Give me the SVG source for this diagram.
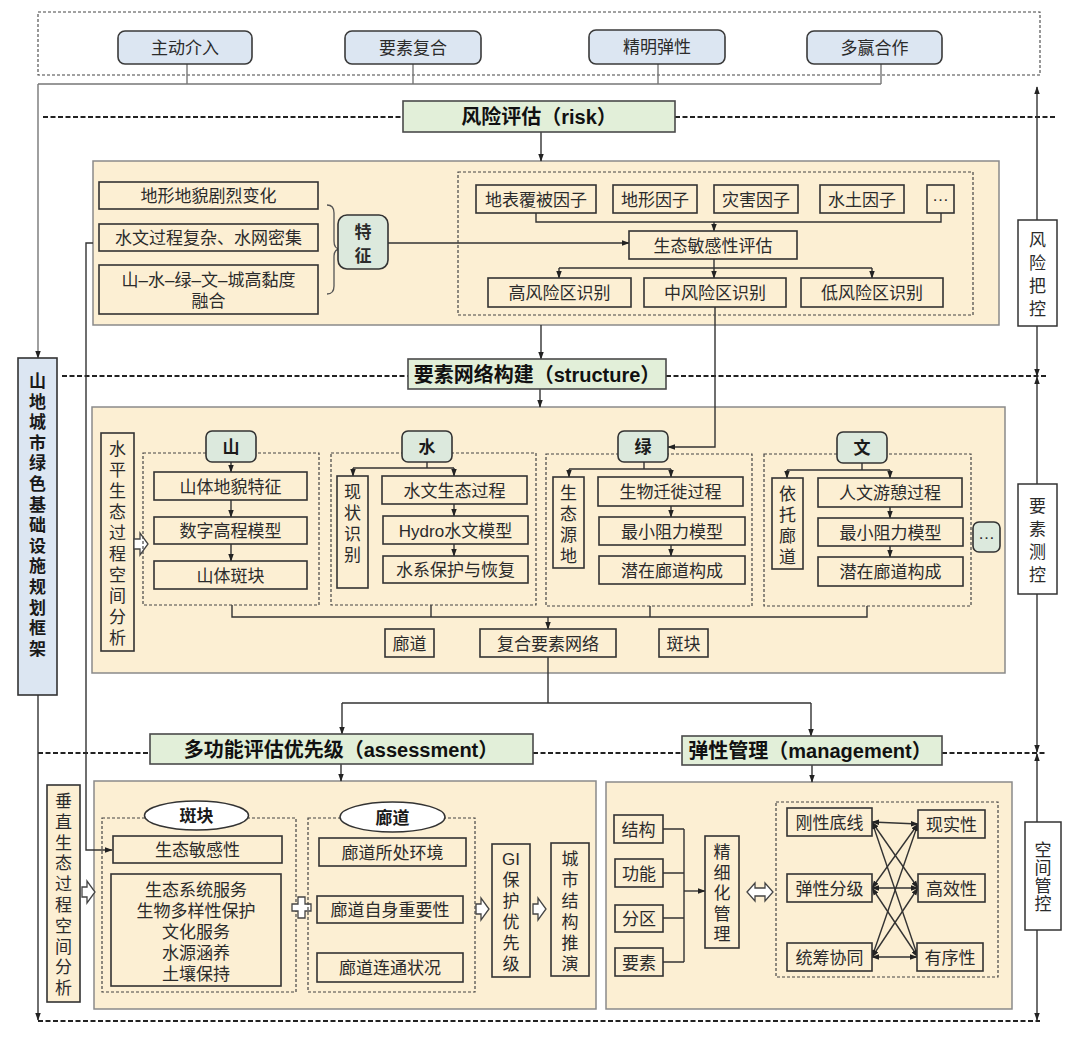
<svg xmlns="http://www.w3.org/2000/svg" width="1080" height="1046" viewBox="0 0 1080 1046">
<defs>
<style>
.t{font-family:"Liberation Sans","Noto Sans CJK SC",sans-serif;font-size:17px;fill:#2b2b2b;text-anchor:middle;dominant-baseline:central}
.b{font-weight:700;fill:#1a1a1a}
.h{font-size:20px;font-weight:700;fill:#111}
.pill{fill:#dce6f2;stroke:#3a3a3a;stroke-width:1.6}
.panel{fill:#fcefd3;stroke:#8a8a8a;stroke-width:1.5}
.box{fill:#fcefd3;stroke:#333;stroke-width:1.6}
.tab{fill:#dce9dd;stroke:#333;stroke-width:1.6}
.title{fill:#e2efd9;stroke:#4a4a4a;stroke-width:1.6}
.wbox{fill:#fff;stroke:#333;stroke-width:1.5}
.grp{fill:none;stroke:#444;stroke-width:1.2;stroke-dasharray:3 2}
.lvl{fill:none;stroke:#222;stroke-width:2;stroke-dasharray:5 2.5}
.ln{fill:none;stroke:#333;stroke-width:1.4}
.gl{fill:none;stroke:#777;stroke-width:1.4}
.hol{fill:#fff;stroke:#444;stroke-width:1.3}
</style>
<marker id="a" viewBox="0 0 10 10" refX="9" refY="5" markerWidth="8" markerHeight="8" markerUnits="userSpaceOnUse" orient="auto-start-reverse"><path d="M0,1.5 L10,5 L0,8.5 z" fill="#222"/></marker>
</defs>
<rect width="1080" height="1046" fill="#fff"/>

<!-- top principles box -->
<rect x="38" y="12" width="1002" height="63" fill="none" stroke="#444" stroke-width="1.1" stroke-dasharray="3 2"/>

<!-- level dashed lines -->
<g id="levels">
<path class="lvl" d="M43,117 H403 M675,117 H1055"/>
<path class="lvl" d="M62,376 H408 M666,376 H1048"/>
<path class="lvl" d="M38,753 H150 M533,753 H682 M942,753 H1045"/>
<path class="lvl" d="M38,1021 H1040"/>
</g>

<!-- panels -->
<g id="risk-panel"><rect class="panel" x="93" y="161" width="906" height="164"/></g>
<g id="structure-panel"><rect class="panel" x="92" y="407" width="913" height="266"/></g>
<g id="assessment-panel"><rect class="panel" x="94" y="781" width="502" height="228"/></g>
<g id="management-panel"><rect class="panel" x="606" y="782" width="406" height="227"/></g>

<!-- connectors -->
<g id="connectors">
<path class="gl" d="M187,64 V84 M413,64 V84 M658,64 V84 M881,64 V84 M881,84 H38"/>
<path class="gl" d="M38,84 V358" marker-end="url(#a)"/>
<path class="ln" d="M38,695 V1020" marker-end="url(#a)"/>
<path class="ln" d="M93,243 H86 V850 H112" marker-end="url(#a)"/>
<path class="ln" d="M541,132 V161" marker-end="url(#a)"/>
<path class="ln" d="M388,243 H629" marker-end="url(#a)"/>
<path class="ln" d="M536,213 V222 H941 V213"/>
<path class="ln" d="M714,222 V231" marker-end="url(#a)"/>
<path class="ln" d="M714,259 V268 M559,268 H872"/>
<path class="ln" d="M559,268 V278" marker-end="url(#a)"/>
<path class="ln" d="M714,268 V278" marker-end="url(#a)"/>
<path class="ln" d="M872,268 V278" marker-end="url(#a)"/>
<path class="ln" d="M715,307 V447 H668" marker-end="url(#a)"/>
<path class="ln" d="M541,325 V359" marker-end="url(#a)"/>
<path class="ln" d="M540,389 V407" marker-end="url(#a)"/>
<path class="ln" d="M231,462 V472" marker-end="url(#a)"/>
<path class="ln" d="M231,500 V517" marker-end="url(#a)"/>
<path class="ln" d="M231,544 V561" marker-end="url(#a)"/>
<path class="ln" d="M427,462 V468 M353,468 H454"/>
<path class="ln" d="M353,468 V476" marker-end="url(#a)"/>
<path class="ln" d="M454,468 V476" marker-end="url(#a)"/>
<path class="ln" d="M454,504 V516" marker-end="url(#a)"/>
<path class="ln" d="M454,544 V556" marker-end="url(#a)"/>
<path class="ln" d="M644,462 V469 M569,469 H671"/>
<path class="ln" d="M569,469 V477" marker-end="url(#a)"/>
<path class="ln" d="M671,469 V477" marker-end="url(#a)"/>
<path class="ln" d="M671,506 V517" marker-end="url(#a)"/>
<path class="ln" d="M671,545 V556" marker-end="url(#a)"/>
<path class="ln" d="M862,463 V470 M787,470 H890"/>
<path class="ln" d="M787,470 V478" marker-end="url(#a)"/>
<path class="ln" d="M890,470 V478" marker-end="url(#a)"/>
<path class="ln" d="M890,507 V518" marker-end="url(#a)"/>
<path class="ln" d="M890,546 V557" marker-end="url(#a)"/>
<path class="ln" d="M232,605 V617 H867 V606 M431,605 V617 M650,606 V617"/>
<path class="ln" d="M548,617 V629" marker-end="url(#a)"/>
<path class="ln" d="M548,657 V703 M342,703 H811"/>
<path class="ln" d="M342,703 V734" marker-end="url(#a)"/>
<path class="ln" d="M811,703 V736" marker-end="url(#a)"/>
<path class="ln" d="M341,764 V781" marker-end="url(#a)"/>
<path class="ln" d="M812,765 V782" marker-end="url(#a)"/>
<path class="ln" d="M663,829 H684 M663,873 H684 M663,918 H684 M663,962 H684 M684,829 V962"/>
<path class="ln" d="M684,891 H705" marker-end="url(#a)"/>
<g stroke-width="1.1">
<path class="ln" d="M872,822 L918,824" marker-start="url(#a)" marker-end="url(#a)"/>
<path class="ln" d="M872,822 L918,888" marker-start="url(#a)" marker-end="url(#a)"/>
<path class="ln" d="M872,822 L918,957" marker-start="url(#a)" marker-end="url(#a)"/>
<path class="ln" d="M872,888 L918,824" marker-start="url(#a)" marker-end="url(#a)"/>
<path class="ln" d="M872,888 L918,888" marker-start="url(#a)" marker-end="url(#a)"/>
<path class="ln" d="M872,888 L918,957" marker-start="url(#a)" marker-end="url(#a)"/>
<path class="ln" d="M872,957 L918,824" marker-start="url(#a)" marker-end="url(#a)"/>
<path class="ln" d="M872,957 L918,888" marker-start="url(#a)" marker-end="url(#a)"/>
<path class="ln" d="M872,957 L917,957" marker-start="url(#a)" marker-end="url(#a)"/>
</g>
<path class="ln" d="M1037,376 V87" marker-start="url(#a)" marker-end="url(#a)"/>
<path class="ln" d="M1037,377 V752" marker-start="url(#a)" marker-end="url(#a)"/>
<path class="ln" d="M1037,754 V1020" marker-start="url(#a)" marker-end="url(#a)"/>
</g>

<!-- top pills -->
<g id="p1"><rect class="pill" x="118" y="31" width="134" height="33" rx="7"/><text class="t" x="185" y="48" font-size="19">主动介入</text></g>
<g id="p2"><rect class="pill" x="345" y="31" width="136" height="33" rx="7"/><text class="t" x="413" y="48" font-size="19">要素复合</text></g>
<g id="p3"><rect class="pill" x="589" y="30" width="136" height="34" rx="7"/><text class="t" x="657" y="47.5" font-size="19">精明弹性</text></g>
<g id="p4"><rect class="pill" x="807" y="31" width="135" height="33" rx="7"/><text class="t" x="874.5" y="48" font-size="19">多赢合作</text></g>

<!-- titles -->
<g id="t-risk"><rect class="title" x="403" y="101" width="272" height="31"/><text class="t h" x="539" y="117">风险评估（risk）</text></g>
<g id="t-structure"><rect class="title" x="408" y="359" width="258" height="30"/><text class="t h" x="537" y="374.5">要素网络构建（structure）</text></g>
<g id="t-assessment"><rect class="title" x="150" y="734" width="383" height="30"/><text class="t h" x="341" y="749.5">多功能评估优先级（assessment）</text></g>
<g id="t-management"><rect class="title" x="682" y="736" width="260" height="29"/><text class="t h" x="810" y="751">弹性管理（management）</text></g>

<!-- left framework box -->
<g id="framework"><rect x="18" y="358" width="39" height="337" fill="#dce6f2" stroke="#333" stroke-width="1.6"/>
<text class="t b" font-size="18.4" x="37.5" y="380"><tspan x="37.5" y="381">山</tspan><tspan x="37.5" y="401.6">地</tspan><tspan x="37.5" y="422.2">城</tspan><tspan x="37.5" y="442.8">市</tspan><tspan x="37.5" y="463.4">绿</tspan><tspan x="37.5" y="484">色</tspan><tspan x="37.5" y="504.6">基</tspan><tspan x="37.5" y="525.2">础</tspan><tspan x="37.5" y="545.8">设</tspan><tspan x="37.5" y="566.4">施</tspan><tspan x="37.5" y="587">规</tspan><tspan x="37.5" y="607.6">划</tspan><tspan x="37.5" y="628.2">框</tspan><tspan x="37.5" y="648.8">架</tspan></text></g>

<!-- right control boxes -->
<g id="r1"><rect class="wbox" x="1018" y="220" width="39" height="106"/><text class="t" font-size="18" x="1037.5" y="240"><tspan x="1037.5" y="240">风</tspan><tspan x="1037.5" y="263">险</tspan><tspan x="1037.5" y="286">把</tspan><tspan x="1037.5" y="309">控</tspan></text></g>
<g id="r2"><rect class="wbox" x="1018" y="484" width="39" height="110"/><text class="t" font-size="18" x="1037.5" y="506"><tspan x="1037.5" y="506">要</tspan><tspan x="1037.5" y="529">素</tspan><tspan x="1037.5" y="552">测</tspan><tspan x="1037.5" y="575">控</tspan></text></g>
<g id="r3"><rect class="wbox" x="1025" y="822" width="36" height="108"/><text class="t" font-size="16" x="1043" y="850"><tspan x="1043" y="850">空</tspan><tspan x="1043" y="868">间</tspan><tspan x="1043" y="886">管</tspan><tspan x="1043" y="904">控</tspan></text></g>

<!-- risk panel contents -->
<g id="f1"><rect class="box" x="99" y="182" width="219" height="27"/><text class="t" x="208.5" y="196.5">地形地貌剧烈变化</text></g>
<g id="f2"><rect class="box" x="99" y="224" width="219" height="27"/><text class="t" x="208.5" y="238.5">水文过程复杂、水网密集</text></g>
<g id="f3"><rect class="box" x="99" y="265" width="219" height="49"/><text class="t" x="208.5" y="280">山–水–绿–文–城高黏度</text><text class="t" x="208.5" y="301">融合</text></g>
<g id="brace"><path d="M327,205 Q334,205 334,213 V241 Q334,249 340,249 Q334,249 334,257 V286 Q334,294 327,294" fill="none" stroke="#555" stroke-width="1.3"/></g>
<g id="feature"><rect class="tab" x="338" y="215" width="50" height="54" rx="9"/><text class="t" font-weight="600" x="363" y="232"><tspan x="363" y="232">特</tspan><tspan x="363" y="256">征</tspan></text></g>
<g id="risk-group"><rect class="grp" x="458" y="172" width="515" height="143"/></g>
<g id="k1"><rect class="box" x="476" y="185" width="120" height="28"/><text class="t" x="536" y="200">地表覆被因子</text></g>
<g id="k2"><rect class="box" x="613" y="185" width="84" height="28"/><text class="t" x="655" y="200">地形因子</text></g>
<g id="k3"><rect class="box" x="714" y="185" width="84" height="28"/><text class="t" x="756" y="200">灾害因子</text></g>
<g id="k4"><rect class="box" x="820" y="185" width="84" height="28"/><text class="t" x="862" y="200">水土因子</text></g>
<g id="k5"><rect class="box" x="927" y="185" width="27" height="28"/><text class="t" x="940.5" y="195">…</text></g>
<g id="eval"><rect class="box" x="629" y="231" width="168" height="28"/><text class="t" x="713" y="246">生态敏感性评估</text></g>
<g id="z1"><rect class="box" x="488" y="278" width="143" height="29"/><text class="t" x="559.5" y="293.5">高风险区识别</text></g>
<g id="z2"><rect class="box" x="644" y="278" width="142" height="29"/><text class="t" x="715" y="293.5">中风险区识别</text></g>
<g id="z3"><rect class="box" x="801" y="278" width="142" height="29"/><text class="t" x="872" y="293.5">低风险区识别</text></g>

<!-- structure panel contents -->
<g id="horiz"><rect class="box" x="101" y="433" width="33" height="218"/><text class="t" x="117.5" y="449"><tspan x="117.5" y="449">水</tspan><tspan x="117.5" y="470">平</tspan><tspan x="117.5" y="491">生</tspan><tspan x="117.5" y="512">态</tspan><tspan x="117.5" y="533">过</tspan><tspan x="117.5" y="554">程</tspan><tspan x="117.5" y="575">空</tspan><tspan x="117.5" y="596">间</tspan><tspan x="117.5" y="617">分</tspan><tspan x="117.5" y="638">析</tspan></text></g>
<g id="harrow1"><path class="hol" d="M134,539 H140 V533 L148,544 L140,555 V549 H134 Z"/></g>

<g id="shan"><rect class="grp" x="143" y="453" width="176" height="152"/>
<rect class="tab" x="206" y="431" width="50" height="31" rx="6"/><text class="t b" x="231" y="447.5">山</text></g>
<g id="s1"><rect class="box" x="154" y="472" width="153" height="28"/><text class="t" x="230.5" y="487">山体地貌特征</text></g>
<g id="s2"><rect class="box" x="154" y="517" width="153" height="27"/><text class="t" x="230.5" y="531.5">数字高程模型</text></g>
<g id="s3"><rect class="box" x="154" y="561" width="153" height="28"/><text class="t" x="230.5" y="576">山体斑块</text></g>

<g id="shui"><rect class="grp" x="331" y="453" width="205" height="152"/>
<rect class="tab" x="402" y="431" width="50" height="31" rx="6"/><text class="t b" x="427" y="447.5">水</text></g>
<g id="w0"><rect class="box" x="337" y="476" width="31" height="112"/><text class="t" x="352.5" y="492"><tspan x="352.5" y="492">现</tspan><tspan x="352.5" y="513">状</tspan><tspan x="352.5" y="534">识</tspan><tspan x="352.5" y="555">别</tspan></text></g>
<g id="w1"><rect class="box" x="382" y="476" width="145" height="28"/><text class="t" x="454.5" y="491">水文生态过程</text></g>
<g id="w2"><rect class="box" x="383" y="516" width="145" height="28"/><text class="t" x="455.5" y="531">Hydro水文模型</text></g>
<g id="w3"><rect class="box" x="383" y="556" width="145" height="27"/><text class="t" x="455.5" y="570.5">水系保护与恢复</text></g>

<g id="lv"><rect class="grp" x="546" y="454" width="206" height="152"/>
<rect class="tab" x="618" y="431" width="50" height="31" rx="6"/><text class="t b" x="643" y="447.5">绿</text></g>
<g id="g0"><rect class="box" x="553" y="477" width="31" height="91"/><text class="t" x="568.5" y="493"><tspan x="568.5" y="493">生</tspan><tspan x="568.5" y="514">态</tspan><tspan x="568.5" y="535">源</tspan><tspan x="568.5" y="556">地</tspan></text></g>
<g id="g1"><rect class="box" x="598" y="477" width="145" height="29"/><text class="t" x="670.5" y="492.5">生物迁徙过程</text></g>
<g id="g2"><rect class="box" x="599" y="517" width="146" height="28"/><text class="t" x="672" y="532">最小阻力模型</text></g>
<g id="g3"><rect class="box" x="599" y="556" width="146" height="28"/><text class="t" x="672" y="571">潜在廊道构成</text></g>

<g id="wen"><rect class="grp" x="764" y="454" width="207" height="152"/>
<rect class="tab" x="837" y="432" width="50" height="31" rx="6"/><text class="t b" x="862" y="448.5">文</text></g>
<g id="c0"><rect class="box" x="772" y="478" width="31" height="91"/><text class="t" x="787.5" y="494"><tspan x="787.5" y="494">依</tspan><tspan x="787.5" y="515">托</tspan><tspan x="787.5" y="536">廊</tspan><tspan x="787.5" y="557">道</tspan></text></g>
<g id="c1"><rect class="box" x="818" y="478" width="144" height="29"/><text class="t" x="890" y="493.5">人文游憩过程</text></g>
<g id="c2"><rect class="box" x="818" y="518" width="145" height="28"/><text class="t" x="890.5" y="533">最小阻力模型</text></g>
<g id="c3"><rect class="box" x="818" y="557" width="145" height="29"/><text class="t" x="890.5" y="572.5">潜在廊道构成</text></g>
<g id="more"><rect class="tab" x="973" y="522" width="27" height="30" rx="6"/><text class="t" x="986.5" y="533">…</text></g>

<g id="n-corridor"><rect class="box" x="385" y="629" width="49" height="28"/><text class="t" x="409.5" y="644">廊道</text></g>
<g id="n-network"><rect class="box" x="480" y="629" width="136" height="28"/><text class="t" x="548" y="644">复合要素网络</text></g>
<g id="n-patch"><rect class="box" x="659" y="629" width="49" height="28"/><text class="t" x="683.5" y="644">斑块</text></g>

<!-- assessment panel contents -->
<g id="vert"><rect class="box" x="47" y="785" width="33" height="217"/><text class="t" x="63.5" y="801"><tspan x="63.5" y="801">垂</tspan><tspan x="63.5" y="821.8">直</tspan><tspan x="63.5" y="842.6">生</tspan><tspan x="63.5" y="863.4">态</tspan><tspan x="63.5" y="884.2">过</tspan><tspan x="63.5" y="905">程</tspan><tspan x="63.5" y="925.8">空</tspan><tspan x="63.5" y="946.6">间</tspan><tspan x="63.5" y="967.4">分</tspan><tspan x="63.5" y="988.2">析</tspan></text></g>
<g id="harrow2"><path class="hol" d="M82,887 H87 V881 L95,892 L87,903 V897 H82 Z"/></g>

<g id="patch-group"><rect class="grp" x="102" y="818" width="194" height="174"/>
<ellipse cx="196.5" cy="815.5" rx="52" ry="14.5" fill="#fff" stroke="#333" stroke-width="1.5"/><text class="t b" x="196.5" y="816.5">斑块</text></g>
<g id="a1"><rect class="box" x="113" y="836" width="169" height="27"/><text class="t" x="197.5" y="850.5">生态敏感性</text></g>
<g id="a2"><rect class="box" x="111" y="874" width="170" height="112"/>
<text class="t" x="196" y="890">生态系统服务</text><text class="t" x="196" y="911">生物多样性保护</text><text class="t" x="196" y="932">文化服务</text><text class="t" x="196" y="953">水源涵养</text><text class="t" x="196" y="974">土壤保持</text></g>
<g id="plus"><path class="hol" d="M298,897 h7 v7 h6 v7 h-6 v7 h-7 v-7 h-6 v-7 h6 z"/></g>

<g id="corr-group"><rect class="grp" x="308" y="818" width="167" height="174"/>
<ellipse cx="392.5" cy="817" rx="52.5" ry="15" fill="#fff" stroke="#333" stroke-width="1.5"/><text class="t b" x="392.5" y="818">廊道</text></g>
<g id="b1"><rect class="box" x="319" y="838" width="147" height="28"/><text class="t" x="392.5" y="853">廊道所处环境</text></g>
<g id="b2"><rect class="box" x="317" y="896" width="146" height="27"/><text class="t" x="390" y="910.5">廊道自身重要性</text></g>
<g id="b3"><rect class="box" x="317" y="953" width="146" height="29"/><text class="t" x="390" y="968.5">廊道连通状况</text></g>
<g id="harrow3"><path class="hol" d="M476,904 H481 V898 L489,909 L481,920 V914 H476 Z"/></g>
<g id="gi"><rect class="box" x="492" y="844" width="38" height="133"/><text class="t" x="511" y="859"><tspan x="511" y="859">GI</tspan><tspan x="511" y="880">保</tspan><tspan x="511" y="901">护</tspan><tspan x="511" y="922">优</tspan><tspan x="511" y="943">先</tspan><tspan x="511" y="964">级</tspan></text></g>
<g id="harrow4"><path class="hol" d="M533,904 H538 V898 L546,909 L538,920 V914 H533 Z"/></g>
<g id="city"><rect class="box" x="551" y="843" width="38" height="133"/><text class="t" x="570" y="859"><tspan x="570" y="859">城</tspan><tspan x="570" y="880">市</tspan><tspan x="570" y="901">结</tspan><tspan x="570" y="922">构</tspan><tspan x="570" y="943">推</tspan><tspan x="570" y="964">演</tspan></text></g>

<!-- management panel contents -->
<g id="m1"><rect class="box" x="614" y="815" width="49" height="28"/><text class="t" x="638.5" y="830">结构</text></g>
<g id="m2"><rect class="box" x="615" y="859" width="48" height="28"/><text class="t" x="639" y="874">功能</text></g>
<g id="m3"><rect class="box" x="615" y="905" width="48" height="27"/><text class="t" x="639" y="919.5">分区</text></g>
<g id="m4"><rect class="box" x="615" y="948" width="48" height="28"/><text class="t" x="639" y="963">要素</text></g>
<g id="fine"><rect class="box" x="705" y="836" width="34" height="112"/><text class="t" x="722" y="852"><tspan x="722" y="852">精</tspan><tspan x="722" y="872.5">细</tspan><tspan x="722" y="893">化</tspan><tspan x="722" y="913.5">管</tspan><tspan x="722" y="934">理</tspan></text></g>
<g id="dblarrow"><path class="hol" d="M747,892 L755,883 V888 H765 V883 L773,892 L765,901 V896 H755 V901 Z"/></g>
<g id="mgroup"><rect class="grp" x="776" y="802" width="222" height="175"/></g>
<g id="l1"><rect class="box" x="787" y="808" width="85" height="28"/><text class="t" x="829.5" y="823">刚性底线</text></g>
<g id="l2"><rect class="box" x="787" y="874" width="85" height="28"/><text class="t" x="829.5" y="889">弹性分级</text></g>
<g id="l3"><rect class="box" x="787" y="943" width="85" height="28"/><text class="t" x="829.5" y="958">统筹协同</text></g>
<g id="q1"><rect class="box" x="918" y="810" width="67" height="28"/><text class="t" x="951.5" y="825">现实性</text></g>
<g id="q2"><rect class="box" x="918" y="874" width="67" height="28"/><text class="t" x="951.5" y="889">高效性</text></g>
<g id="q3"><rect class="box" x="917" y="943" width="66" height="28"/><text class="t" x="950" y="958">有序性</text></g>
</svg>
